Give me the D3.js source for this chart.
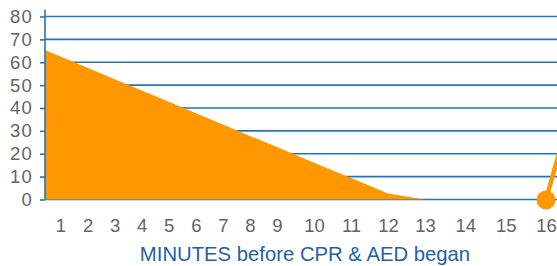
<!DOCTYPE html>
<html>
<head>
<meta charset="utf-8">
<script src="https://cdn.jsdelivr.net/npm/d3@7"></script>
<style>
  html, body { margin: 0; padding: 0; background: #fff; }
  svg { display: block; }
  text { font-family: "Liberation Sans", Arial, sans-serif; }
</style>
</head>
<body>
<script>
// ---- data ----
const minutes = [0, 1, 2, 3, 4, 5, 6, 7, 8, 9, 10, 11, 12, 13];
const survival = [67.5, 62.5, 57.6, 52.6, 47.6, 42.7, 37.7, 32.8, 27.8, 22.9, 16.1, 9.4, 2.6, 0];
const afterMinutes = [16, 17];
const afterValues = [0, 62];
const xTickLabels = [1, 2, 3, 4, 5, 6, 7, 8, 9, 10, 11, 12, 13, 14, 15, 16];
const yTickLabels = [0, 10, 20, 30, 40, 50, 60, 70, 80];
const xTitle = "MINUTES before CPR & AED began";

// ---- layout ----
const W = 557, H = 266;
const axisX = 45;
const orange = "#ff9700";
const blue = "#2574b3";
const grey = "#636363";

const svg = d3.select("body").append("svg").attr("width", W).attr("height", H);

const x = d3.scaleLinear().domain([1, 9, 13, 16]).range([60.5, 277, 425, 546]);
const y = d3.scaleLinear().domain([0, 80]).range([199.5, 16.5]);

// gridlines
svg.append("g").selectAll("line").data(yTickLabels).join("line")
  .attr("x1", axisX).attr("x2", W)
  .attr("y1", d => y(d)).attr("y2", d => y(d))
  .attr("stroke", blue).attr("stroke-width", 1.6);

// clip
svg.append("clipPath").attr("id", "plot")
  .append("rect").attr("x", axisX).attr("y", 0).attr("width", W - axisX).attr("height", H);

const pts = minutes.map((m, i) => ({ m, v: survival[i] }));
const area = d3.area().x(d => x(d.m)).y0(y(0)).y1(d => y(d.v));
svg.append("path").datum(pts).attr("d", area)
  .attr("fill", orange).attr("clip-path", "url(#plot)");

// after series
const aPts = afterMinutes.map((m, i) => ({ m, v: afterValues[i] }));
const line = d3.line().x(d => x(d.m)).y(d => y(d.v));
svg.append("path").datum(aPts).attr("d", line)
  .attr("fill", "none").attr("stroke", orange).attr("stroke-width", 4.5);
svg.append("circle").attr("cx", x(aPts[0].m)).attr("cy", y(aPts[0].v) + 0.5).attr("r", 9.5)
  .attr("fill", orange);

// y axis
const yAxis = d3.axisLeft(y).tickValues(yTickLabels).tickSize(5).tickSizeOuter(0).tickPadding(8);
const gy = svg.append("g").attr("transform", `translate(${axisX},0)`).call(yAxis);
gy.select(".domain").remove();
gy.append("line").attr("x1", 0).attr("x2", 0).attr("y1", y(83)).attr("y2", y(0))
  .attr("stroke", blue).attr("stroke-width", 1.6);
gy.selectAll(".tick line").attr("stroke", blue).attr("stroke-width", 1.6);
gy.selectAll(".tick text")
  .attr("fill", grey).attr("font-size", 18.5).attr("letter-spacing", 1.2)
  .attr("font-family", "Liberation Sans, Arial, sans-serif")
  .attr("x", -12);

// x tick labels
const xAxis = d3.axisBottom(x).tickValues(xTickLabels).tickSize(0).tickPadding(0).tickFormat(d3.format("d"));
const gx = svg.append("g").attr("transform", `translate(0,${y(0)})`).call(xAxis);
gx.select(".domain").remove();
gx.selectAll(".tick text")
  .attr("fill", grey).attr("font-size", 18.5)
  .attr("font-family", "Liberation Sans, Arial, sans-serif")
  .attr("dy", null).attr("y", 32.5);

// title
svg.append("text").attr("x", 305).attr("y", 261)
  .attr("text-anchor", "middle").attr("font-size", 20.3).attr("fill", "#2360a8")
  .text(xTitle);
</script>
</body>
</html>
